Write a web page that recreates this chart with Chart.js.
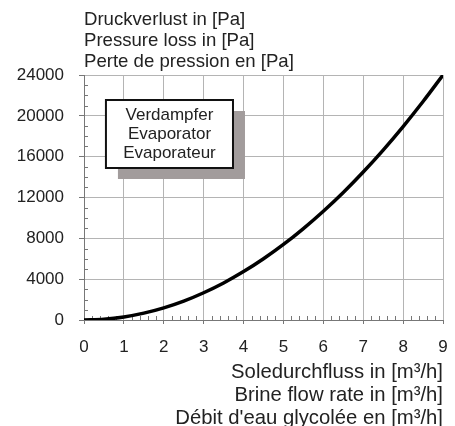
<!DOCTYPE html>
<html>
<head>
<meta charset="utf-8">
<script src="https://cdn.jsdelivr.net/npm/chart.js@4.4.0/dist/chart.umd.min.js"></script>
<style>
  html, body { margin: 0; padding: 0; background: #fff; }
  #wrap { width: 455px; height: 426px; }
</style>
</head>
<body>
<div id="wrap"><canvas id="chart-pressure"></canvas></div>
<script>
// values
var flowRates = [0, 0.5, 1, 1.5, 2, 2.5, 3, 3.5, 4, 4.5, 5, 5.5, 6, 6.5, 7, 7.5, 8, 8.5, 9];
var pressureLoss = [0, 75, 300, 670, 1190, 1850, 2670, 3630, 4740, 6000, 7400, 8960, 10660, 12500, 14500, 16650, 18950, 21400, 24000];

var xTicks = [0, 1, 2, 3, 4, 5, 6, 7, 8, 9];
var yTicks = [0, 4000, 8000, 12000, 16000, 20000, 24000];

var yTitle = ['Druckverlust in [Pa]', 'Pressure loss in [Pa]', 'Perte de pression en [Pa]'];
var xTitle = ['Soledurchfluss in [m³/h]', 'Brine flow rate in [m³/h]', 'Débit d\'eau glycolée en [m³/h]'];
var boxLines = ['Verdampfer', 'Evaporator', 'Evaporateur'];

var fontFamily = '"Liberation Sans", Arial, Helvetica, sans-serif';
var textColor = '#222';

var points = flowRates.map(function (x, i) {
    return { x: x, y: pressureLoss[i] };
});

// small ticks between the major ones + the shaded label box
var extrasPlugin = {
    id: 'extras',
    beforeDatasetsDraw: function (chart) {
        var ctx = chart.ctx;
        var xs = chart.scales.x;
        var ys = chart.scales.y;
        var area = chart.chartArea;
        ctx.save();
        ctx.strokeStyle = '#777';
        ctx.lineWidth = 1;
        ctx.beginPath();
        for (var v = 1000; v < 24000; v += 1000) {
            if (v % 4000 === 0) continue;
            var py = Math.round(ys.getPixelForValue(v)) + 0.5;
            ctx.moveTo(area.left, py);
            ctx.lineTo(area.left + 4, py);
        }
        for (var k = 1; k < 45; k++) {
            if (k % 5 === 0) continue;
            var px = Math.round(xs.getPixelForValue(k / 5)) + 0.5;
            ctx.moveTo(px, area.bottom);
            ctx.lineTo(px, area.bottom - 4);
        }
        ctx.stroke();

        // label box
        var left = xs.getPixelForValue(0.55);
        var right = xs.getPixelForValue(3.735);
        var top = ys.getPixelForValue(21550);
        var bottom = ys.getPixelForValue(14890);
        ctx.fillStyle = '#a29c9c';
        ctx.fillRect(left + 12, top + 11, right - left, bottom - top);
        ctx.fillStyle = '#fff';
        ctx.fillRect(left, top, right - left, bottom - top);
        ctx.strokeStyle = '#111';
        ctx.lineWidth = 2;
        ctx.strokeRect(left, top, right - left, bottom - top);
        ctx.fillStyle = textColor;
        ctx.font = '17px ' + fontFamily;
        ctx.textAlign = 'center';
        ctx.textBaseline = 'middle';
        var cx = (left + right) / 2;
        var cy = (top + bottom) / 2;
        for (var i = 0; i < boxLines.length; i++) {
            ctx.fillText(boxLines[i], cx, cy + (i - 1) * 19);
        }
        ctx.restore();
    }
};

var ctx = document.getElementById('chart-pressure').getContext('2d');

new Chart(ctx, {
    type: 'scatter',
    data: {
        datasets: [{
            label: 'Evaporator',
            data: points,
            showLine: true,
            borderColor: '#000',
            borderWidth: 3.5,
            pointRadius: 0,
            cubicInterpolationMode: 'monotone',
            fill: false
        }]
    },
    options: {
        responsive: true,
        maintainAspectRatio: false,
        animation: false,
        layout: {
            padding: { left: 0, right: 12, top: 0, bottom: 0 }
        },
        plugins: {
            legend: { display: false },
            tooltip: { enabled: false },
            title: {
                display: true,
                text: yTitle,
                align: 'start',
                fullSize: false,
                color: textColor,
                font: { family: fontFamily, size: 18.6, weight: 'normal', lineHeight: '21px' },
                padding: { top: 9, bottom: 3 }
            }
        },
        scales: {
            x: {
                type: 'linear',
                min: 0,
                max: 9,
                afterFit: function (scale) { scale.height = 106; },
                afterBuildTicks: function (scale) {
                    scale.ticks = xTicks.map(function (v) { return { value: v }; });
                },
                grid: {
                    color: '#b4b4b4',
                    tickColor: '#777',
                    tickLength: 4,
                    lineWidth: 1
                },
                border: { color: '#777', width: 1 },
                ticks: {
                    color: textColor,
                    padding: 2,
                    maxRotation: 0,
                    // tall line box pushes the labels down without widening the side padding
                    font: { family: fontFamily, size: 17, lineHeight: 2.55 }
                },
                title: {
                    display: true,
                    text: xTitle,
                    align: 'end',
                    color: textColor,
                    font: { family: fontFamily, size: 20.3, lineHeight: '23px' },
                    padding: { top: 0, bottom: -4 }
                }
            },
            y: {
                type: 'linear',
                min: 0,
                max: 24000,
                afterFit: function (scale) { scale.width = 84; },
                afterBuildTicks: function (scale) {
                    scale.ticks = yTicks.map(function (v) { return { value: v }; });
                },
                grid: {
                    color: '#b4b4b4',
                    tickColor: '#777',
                    tickLength: 5,
                    lineWidth: 1
                },
                border: { color: '#777', width: 1 },
                ticks: {
                    color: textColor,
                    padding: 15,
                    font: { family: fontFamily, size: 17, lineHeight: 1.2 },
                    callback: function (value) { return String(value); }
                }
            }
        }
    },
    plugins: [extrasPlugin]
});
</script>
</body>
</html>
